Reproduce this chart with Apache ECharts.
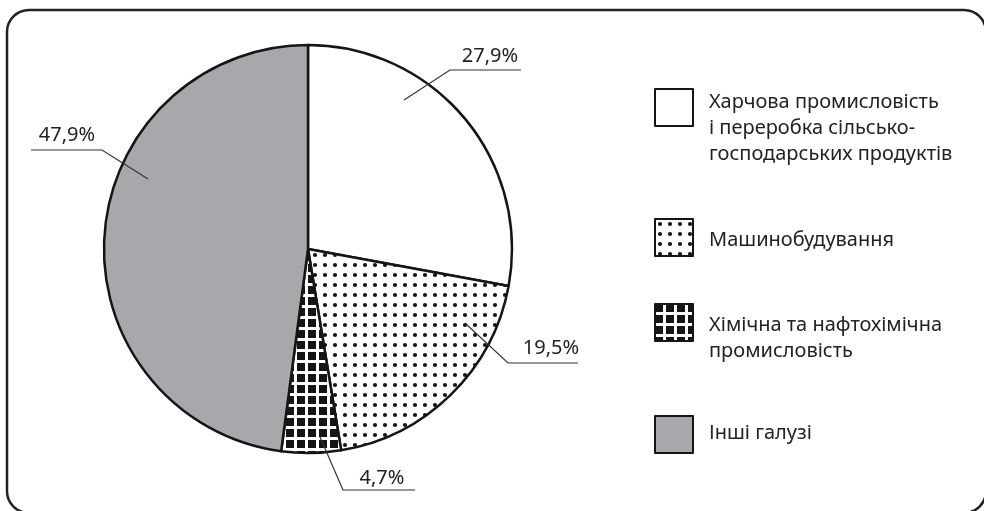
<!DOCTYPE html>
<html>
<head>
<meta charset="utf-8">
<script src="https://cdn.jsdelivr.net/npm/echarts@6/dist/echarts.min.js"></script>
<style>
html, body { margin: 0; padding: 0; background: #fff; }
#chart { width: 984px; height: 511px; }
</style>
</head>
<body>
<div id="chart"></div>
<script>
// data
const industries = [
    'Харчова промисловість\nі переробка сільсько-\nгосподарських продуктів',
    'Машинобудування',
    'Хімічна та нафтохімічна\nпромисловість',
    'Інші галузі'
];
const shares = [27.9, 19.5, 4.7, 47.9];

const FONT = '"Noto Sans", sans-serif';
const pieCenter = [308, 249];
const pieRadius = 204;

// leader lines: offsets from the pie centre (start, bend, end) and label centre
const leaderOffsets = [
    [[96, -149], [142, -179], [213, -179]],
    [[157, 74], [200, 114], [270, 114]],
    [[12, 188], [35, 241], [107, 241]],
    [[-160, -70], [-206, -99], [-277, -99]]
];
const labelOffsets = [[182, -193], [243, 99], [74, 229], [-241, -114]];

// legend placement (one legend box per item so the gaps can differ)
const legendTops = [88, 218, 303, 415];
const legendPads = [[42, 0, 0, 11], [6, 0, 0, 11], [31, 0, 0, 11], [0, 0, 2, 11]];

function dotPattern() {
    const c = document.createElement('canvas');
    c.width = 10; c.height = 10;
    const ctx = c.getContext('2d');
    ctx.fillStyle = '#fff';
    ctx.fillRect(0, 0, 10, 10);
    ctx.fillStyle = '#151515';
    ctx.beginPath();
    ctx.arc(5, 5, 2.1, 0, Math.PI * 2);
    ctx.fill();
    return c;
}

function gridPattern() {
    const c = document.createElement('canvas');
    c.width = 11; c.height = 11;
    const ctx = c.getContext('2d');
    ctx.fillStyle = '#fff';
    ctx.fillRect(0, 0, 11, 11);
    ctx.fillStyle = '#151515';
    ctx.fillRect(0, 0, 8, 8);
    return c;
}

const fills = [
    '#ffffff',
    { image: dotPattern(), repeat: 'repeat' },
    { image: gridPattern(), repeat: 'repeat' },
    '#a7a8ab'
];

const chart = echarts.init(document.getElementById('chart'), null, { renderer: 'canvas' });

const option = {
    animation: false,
    backgroundColor: '#fff',
    graphic: [{
        type: 'rect',
        silent: true,
        z: -10,
        shape: { x: 7, y: 10, width: 979, height: 503, r: 22 },
        style: { fill: 'none', stroke: '#222', lineWidth: 2.5 }
    }],
    legend: industries.map((name, i) => ({
        data: [name],
        orient: 'vertical',
        left: 654,
        top: legendTops[i],
        padding: 0,
        itemWidth: 38,
        itemHeight: 37,
        icon: 'rect',
        selectedMode: false,
        formatter: n => '{t|' + n + '}',
        textStyle: {
            fontFamily: FONT,
            fontSize: 20,
            color: '#222',
            padding: legendPads[i],
            rich: {
                t: { fontFamily: FONT, fontSize: 20, lineHeight: 26, color: '#222' }
            }
        }
    })),
    series: [{
        // the slices
        type: 'pie',
        center: pieCenter,
        radius: pieRadius,
        startAngle: 90,
        clockwise: true,
        silent: true,
        label: { show: false },
        labelLine: { show: false },
        data: industries.map((name, i) => ({
            name: name,
            value: shares[i],
            itemStyle: { color: fills[i] }
        })),
        itemStyle: { borderColor: '#151515', borderWidth: 2.5 }
    }, {
        // same shares again, transparent, so leader lines sit on top of the slices
        type: 'pie',
        z: 5,
        center: pieCenter,
        radius: pieRadius,
        startAngle: 90,
        clockwise: true,
        silent: true,
        avoidLabelOverlap: false,
        data: industries.map((name, i) => ({ name: name, value: shares[i] })),
        itemStyle: { color: 'rgba(0,0,0,0)', borderWidth: 0 },
        label: {
            position: 'outside',
            formatter: p => p.value.toFixed(1).replace('.', ',') + '%',
            fontFamily: FONT,
            fontSize: 20,
            color: '#222'
        },
        labelLine: {
            show: true,
            smooth: false,
            lineStyle: { color: '#333', width: 1.2 }
        },
        labelLayout: p => {
            const i = p.dataIndex;
            return {
                x: pieCenter[0] + labelOffsets[i][0],
                y: pieCenter[1] + labelOffsets[i][1],
                align: 'center',
                verticalAlign: 'middle',
                labelLinePoints: leaderOffsets[i].map(o => [pieCenter[0] + o[0], pieCenter[1] + o[1]])
            };
        }
    }]
};

chart.setOption(option);
</script>
</body>
</html>
